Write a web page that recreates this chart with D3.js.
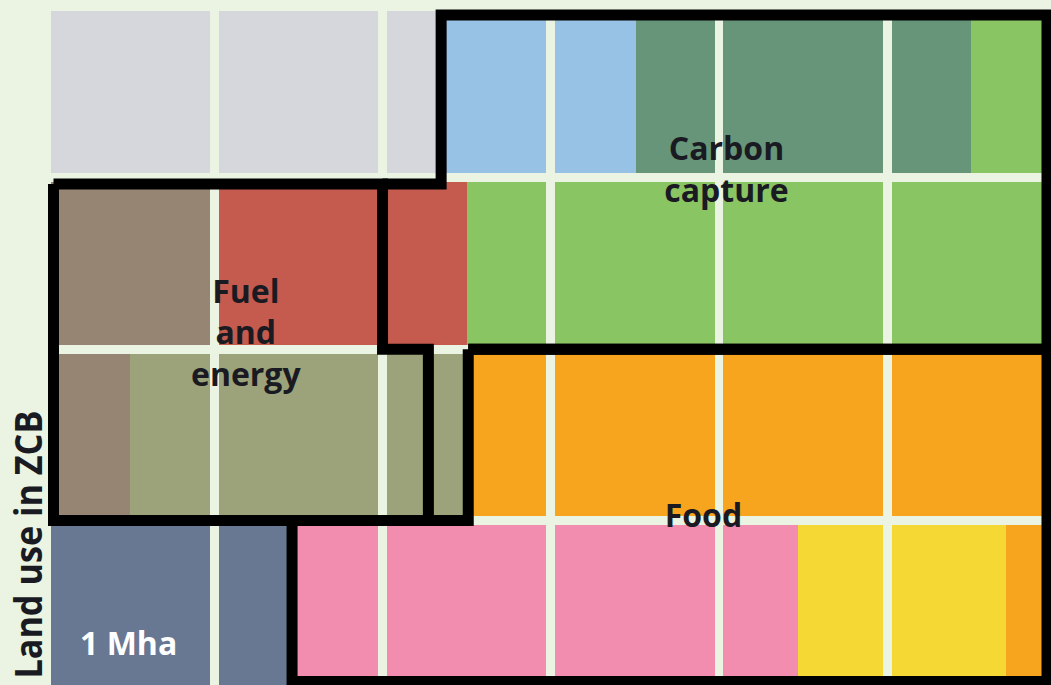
<!DOCTYPE html>
<html>
<head>
<meta charset="utf-8">
<script src="https://cdn.jsdelivr.net/npm/d3@7"></script>
<style>
  body { margin: 0; background: #ebf4e3; }
  svg { display: block; }
</style>
</head>
<body>
<div id="chart"></div>
<script>
// grid of 1 Mha cells, 6 across and 4 down
const cols = 6;
const rows = 4;

// land use categories and their colours
const categories = ["other", "wetland", "woodland", "grassland", "energyA", "energyB", "energyC", "foodA", "foodB", "foodC", "settlement"];
const catColors = ["#d6d7dd", "#97c2e5", "#679579", "#8ac563", "#978573", "#c45b4e", "#9ca37a", "#f7a51e", "#f28db0", "#f6d835", "#697892"];

// each row is filled left to right, values in Mha
const rowCats = [
    ["other", "wetland", "woodland", "grassland"],
    ["energyA", "energyB", "grassland"],
    ["energyA", "energyC", "foodA"],
    ["settlement", "foodB", "foodC", "foodA"]
];
const rowValues = [
    [2.34, 1.17, 1.99, 0.50],
    [1.00, 1.50, 3.50],
    [0.50, 2.01, 3.49],
    [1.46, 3.01, 1.25, 0.28]
];

// groups drawn with a black outline (in cell units)
const groupLines = [["Carbon", "capture"], ["Fuel", "and", "energy"], ["Food"]];
const groupOutlines = [
    [[2.51, 2], [6, 2], [6, 0], [2.34, 0], [2.34, 1.01], [2, 1.01]],
    [[0, 1.01], [2, 1.01], [2, 2], [2.26, 2], [2.26, 3], [0, 3], [0, 1.01]],
    [[2.51, 2], [6, 2], [6, 4], [1.46, 4], [1.46, 3], [2.51, 3], [2.51, 2]]
];
const groupLabelAt = [[4.02, 0.92], [1.17, 1.74], [3.93, 3.01]];

const unitLabel = "1 Mha";
const axisTitle = "Land use in ZCB";

const width = 1051, height = 685;

const svg = d3.select("#chart").append("svg")
    .attr("width", width)
    .attr("height", height);

svg.append("rect")
    .attr("width", width)
    .attr("height", height)
    .attr("fill", "#ebf4e3");

const xBand = d3.scaleBand().domain(d3.range(cols)).range([50.5, 1051]).paddingInner(0.052);
const yBand = d3.scaleBand().domain(d3.range(rows)).range([11, 687.5]).paddingInner(0.052);
const color = d3.scaleOrdinal().domain(categories).range(catColors);

const bw = xBand.bandwidth(), bh = yBand.bandwidth();
const gapX = xBand.step() - bw, gapY = yBand.step() - bh;
const inset = 4;

// position of a point in cell units
function gx(u) {
    if (u <= 0) return xBand(0) + inset - 1;
    if (u >= cols) return xBand(cols - 1) + bw - inset;
    const i = Math.floor(u), f = u - i;
    if (f === 0) return xBand(i) - gapX / 2;
    return xBand(i) + f * bw;
}
function gy(v) {
    if (v <= 0) return yBand(0) + inset;
    if (v >= rows) return yBand(rows - 1) + bh - inset - 2;
    const i = Math.floor(v), f = v - i;
    if (f === 0) return yBand(i) - gapY / 2;
    return yBand(i) + f * bh;
}

// split each row's segments into per-cell pieces
const pieces = [];
rowValues.forEach((vals, r) => {
    let start = 0;
    vals.forEach((v, k) => {
        const end = start + v;
        for (let c = Math.floor(start); c < Math.min(cols, Math.ceil(end - 1e-9)); c++) {
            const a = Math.max(start, c), b = Math.min(end, c + 1);
            pieces.push({ row: r, col: c, a: a - c, b: b - c, cat: rowCats[r][k] });
        }
        start = end;
    });
});

svg.append("g")
    .selectAll("rect")
    .data(pieces)
    .enter().append("rect")
    .attr("x", d => xBand(d.col) + d.a * bw)
    .attr("y", d => yBand(d.row))
    .attr("width", d => (d.b - d.a) * bw)
    .attr("height", bh)
    .attr("fill", d => color(d.cat))
    .attr("shape-rendering", "crispEdges");

// group outlines
const line = d3.line().x(d => gx(d[0])).y(d => gy(d[1]));
svg.append("g")
    .selectAll("path")
    .data(groupOutlines)
    .enter().append("path")
    .attr("d", line)
    .attr("fill", "none")
    .attr("stroke", "#000")
    .attr("stroke-width", 11)
    .attr("stroke-linejoin", "miter");

// group labels
const labels = svg.append("g")
    .attr("font-family", "'Open Sans', sans-serif")
    .attr("font-weight", 700)
    .attr("font-size", 32)
    .attr("fill", "#1a1a22")
    .attr("text-anchor", "middle");

groupLines.forEach((lines, i) => {
    const [u, v] = groupLabelAt[i];
    lines.forEach((t, j) => {
        labels.append("text")
            .attr("x", gx(u))
            .attr("y", gy(v) + j * 41.5)
            .text(t);
    });
});

labels.append("text")
    .attr("x", gx(0.49))
    .attr("y", gy(3.8))
    .attr("fill", "#ffffff")
    .text(unitLabel);

svg.append("text")
    .attr("transform", `translate(41.5,${gy(3) + 24}) rotate(-90)`)
    .attr("font-family", "'Open Sans', sans-serif")
    .attr("font-weight", 700)
    .attr("font-size", 37)
    .attr("fill", "#1a1a22")
    .attr("text-anchor", "middle")
    .attr("textLength", 268)
    .attr("lengthAdjust", "spacingAndGlyphs")
    .text(axisTitle);
</script>
</body>
</html>
